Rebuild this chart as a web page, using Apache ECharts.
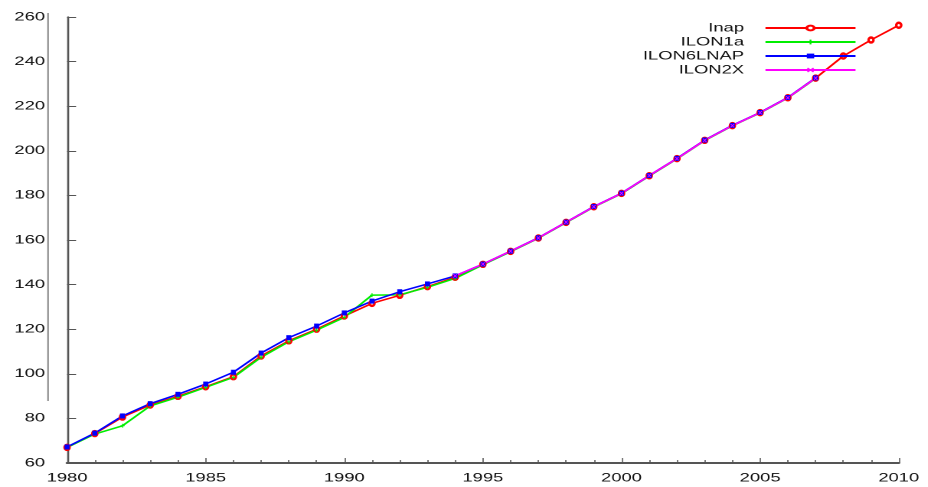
<!DOCTYPE html>
<html>
<head>
<meta charset="utf-8">
<script src="https://cdn.jsdelivr.net/npm/echarts@6/dist/echarts.min.js"></script>
<style>
  html, body { margin: 0; padding: 0; background: #fff; overflow: hidden; }
  #wrap { width: 928px; height: 487px; overflow: hidden; position: relative; background: #fff; }
  #chart { position: absolute; left: 0; top: 0; height: 487px; transform-origin: 0 0; }
</style>
</head>
<body>
<div id="wrap"><div id="chart"></div></div>
<script>
// Years on the horizontal axis
const years = [1980, 1981, 1982, 1983, 1984, 1985, 1986, 1987, 1988, 1989,
               1990, 1991, 1992, 1993, 1994, 1995, 1996, 1997, 1998, 1999,
               2000, 2001, 2002, 2003, 2004, 2005, 2006, 2007, 2008, 2009, 2010];

const inap = [67.0, 73.2, 80.6, 86.0, 89.9, 94.2, 98.7, 108.0, 114.8, 120.0,
              125.9, 131.6, 135.2, 139.1, 143.3, 149.1, 154.9, 160.9, 167.9, 174.9,
              180.9, 188.8, 196.5, 204.7, 211.3, 217.1, 223.8, 232.6, 242.5, 249.7, 256.3];

const ilon1a = [67.0, 73.0, 76.7, 85.6, 89.5, 93.9, 98.4, 107.4, 114.4, 119.6,
                125.3, 135.3, 135.4, 138.8, 142.8, 148.9, 154.8, 160.8, 167.8, 174.8,
                180.8, 188.7, 196.4, 204.6, 211.2, 217.0, 223.7, 232.5, null, null, null];

const ilon6lnap = [67.2, 73.4, 81.1, 86.6, 90.8, 95.4, 100.7, 109.3, 116.2, 121.4,
                   127.3, 132.6, 136.8, 140.3, 143.9, 149.2, 155.0, 161.0, 168.0, 175.0,
                   181.0, 188.9, 196.6, 204.8, 211.4, 217.2, 223.9, 232.7, null, null, null];

const ilon2x = [null, null, null, null, null, null, null, null, null, null,
                null, null, null, null, 143.9, 149.2, 155.0, 160.9, 168.0, 174.9,
                180.9, 188.9, 196.5, 204.7, 211.3, 217.1, 223.8, 232.6, null, null, null];

const seriesNames = ['Inap', 'ILON1a', 'ILON6LNAP', 'ILON2X'];

// Axis ranges and tick steps
const xMin = 1980, xMax = 2010, xStep = 5;
const yMin = 60, yMax = 260, yStep = 20;

// The figure uses horizontally widened lettering: the chart is laid out
// narrower and stretched along x, so glyphs widen while heights stay put.
const SX = 1.53;
const W = 928 / SX;
const FONT = "'Liberation Sans', Arial, sans-serif";

const dom = document.getElementById('chart');
dom.style.width = W + 'px';
dom.style.transform = 'scaleX(' + SX + ')';

const chart = echarts.init(dom, null, { renderer: 'canvas', devicePixelRatio: 2, width: W, height: 487 });

const pairs = vals => years.map((y, i) => [y, vals[i]]);

// Marker shapes (widths pre-compressed so they come out square after the stretch)
const plusPath = 'path://M1.5,0H2.5V1.5H4V2.5H2.5V4H1.5V2.5H0V1.5H1.5Z';
const crossPath = 'path://M0.6,0L2,1.4L3.4,0L4,0.6L2.6,2L4,3.4L3.4,4L2,2.6L0.6,4L0,3.4L1.4,2L0,0.6Z';

function lineSeries(name, vals, color, symbol, size) {
  return {
    name: name,
    type: 'line',
    data: pairs(vals),
    symbol: symbol,
    symbolSize: [size / SX, size],
    showSymbol: true,
    connectNulls: false,
    lineStyle: { color: color, width: 1.5 },
    itemStyle: { color: color, borderWidth: 1 },
    emphasis: { disabled: true },
    animation: false
  };
}

const option = {
  animation: false,
  backgroundColor: '#ffffff',
  grid: { left: 67 / SX, right: 30 / SX, top: 17, bottom: 24, containLabel: false },
  legend: {
    orient: 'vertical',
    right: 64 / SX,
    top: 16,
    align: 'right',
    itemWidth: 90 / SX,
    itemHeight: 6,
    itemGap: 0,
    selectedMode: false,
    data: seriesNames,
    textStyle: { fontFamily: FONT, fontSize: 12, color: '#111', lineHeight: 14, padding: [0, 9, 0, 0] }
  },
  xAxis: {
    type: 'value',
    min: xMin, max: xMax, interval: xStep,
    axisLine: { show: true, onZero: false, lineStyle: { color: '#555', width: 2 } },
    axisTick: { show: true, inside: true, length: 5, lineStyle: { color: '#555', width: 1.2 / SX } },
    minorTick: { show: true, splitNumber: 5, length: 3, lineStyle: { color: '#555', width: 1.2 / SX } },
    axisLabel: { fontFamily: FONT, fontSize: 12, color: '#111', margin: 9, formatter: v => String(v) },
    splitLine: { show: false }
  },
  yAxis: {
    type: 'value',
    min: yMin, max: yMax, interval: yStep,
    axisLine: { show: true, onZero: false, lineStyle: { color: '#555', width: 2 / SX } },
    axisTick: { show: true, inside: true, length: 9 / SX, lineStyle: { color: '#555', width: 1 } },
    axisLabel: { fontFamily: FONT, fontSize: 12, color: '#111', margin: 22 / SX, formatter: v => String(v) },
    splitLine: { show: false }
  },
  graphic: [{
    type: 'line',
    silent: true,
    shape: { x1: 48 / SX, y1: 13, x2: 48 / SX, y2: 401 },
    style: { stroke: '#777', lineWidth: 1.4 / SX }
  }],
  series: [
    lineSeries('Inap', inap, '#ff0000', 'emptyCircle', 5),
    lineSeries('ILON1a', ilon1a, '#00ee00', plusPath, 4),
    lineSeries('ILON6LNAP', ilon6lnap, '#0000ff', 'rect', 5),
    lineSeries('ILON2X', ilon2x, '#ff00ff', crossPath, 4)
  ]
};

chart.setOption(option);
</script>
</body>
</html>
